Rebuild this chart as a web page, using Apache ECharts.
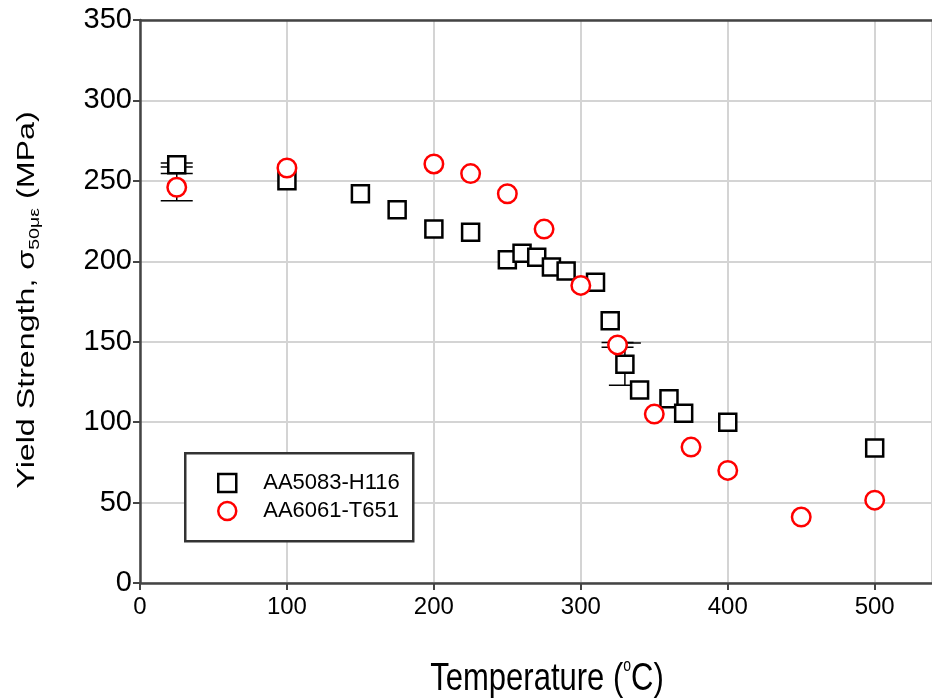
<!DOCTYPE html>
<html><head><meta charset="utf-8">
<script src="https://cdn.jsdelivr.net/npm/echarts@6/dist/echarts.min.js"></script>
<style>html,body{margin:0;padding:0;background:#fff}#c{width:932px;height:700px}</style>
</head><body><div id="c"></div>
<script>
// x axis ticks (Temperature, °C) and y axis ticks (MPa)
const xTicks = [0, 100, 200, 300, 400, 500];
const yTicks = [0, 50, 100, 150, 200, 250, 300, 350];
const xMax = 539;

// AA5083-H116 (squares)
const seriesAName = 'AA5083-H116';
const tempA = [25, 100, 150, 175, 200, 225, 250, 260, 270, 280, 290, 310, 320, 330, 340, 360, 370, 400, 500];
const yieldA = [260, 250, 242, 232, 220, 218, 201, 205, 202.5, 196.5, 194, 187, 163, 136, 120, 114.5, 105.5, 100, 84];

// AA6061-T651 (circles)
const seriesBName = 'AA6061-T651';
const tempB = [25, 100, 200, 225, 250, 275, 300, 325, 350, 375, 400, 450, 500];
const yieldB = [246, 258, 260.5, 254.5, 242, 220, 185, 148, 105, 84.5, 70, 41, 51.5];

// error bars
const errTemp = [25, 25, 330, 325];
const errLow = [258.6, 237.6, 123, 146.5];
const errHigh = [261.1, 254.5, 149.2, 149.5];

const FONT = '"Liberation Sans", Arial, sans-serif';
const chart = echarts.init(document.getElementById('c'));

const dataA = tempA.map((t, i) => [t, yieldA[i]]);
const dataB = tempB.map((t, i) => [t, yieldB[i]]);
const dataErr = errTemp.map((t, i) => [t, errLow[i], errHigh[i]]);

chart.setOption({
  animation: false,
  backgroundColor: '#fff',
  grid: { left: 140, top: 20, right: 0, bottom: 117, show: false },
  xAxis: [{
    type: 'value', min: xTicks[0], max: xMax, interval: xTicks[1] - xTicks[0],
    axisLine: { show: true, onZero: false, lineStyle: { color: '#444', width: 2.5 } },
    axisTick: { show: true, inside: false, length: 7, lineStyle: { color: '#444', width: 2 } },
    axisLabel: { fontFamily: FONT, fontSize: 24, color: '#000', margin: 12, showMaxLabel: false },
    splitLine: { show: true, lineStyle: { color: '#d4d4d4', width: 2 } }
  }, {
    type: 'value', position: 'top', min: xTicks[0], max: xMax, interval: xTicks[1] - xTicks[0],
    axisLine: { show: true, onZero: false, lineStyle: { color: '#444', width: 2.5 } },
    axisTick: { show: false }, axisLabel: { show: false }, splitLine: { show: false }
  }],
  yAxis: {
    type: 'value', min: yTicks[0], max: yTicks[yTicks.length - 1], interval: yTicks[1] - yTicks[0],
    axisLine: { show: true, onZero: false, lineStyle: { color: '#444', width: 2.5 } },
    axisTick: { show: true, inside: false, length: 7, lineStyle: { color: '#444', width: 2 } },
    axisLabel: { fontFamily: FONT, fontSize: 29, color: '#000', margin: 8 },
    splitLine: { show: true, lineStyle: { color: '#d4d4d4', width: 2 } }
  },
  legend: {
    orient: 'vertical', left: 217, top: 472, padding: 0, z: 10,
    itemWidth: 18, itemHeight: 18, itemGap: 6,
    formatter: function (name) { return '{g|}{t|' + name + '}'; },
    textStyle: {
      fontFamily: FONT, fontSize: 22, color: '#000',
      rich: {
        g: { width: 22, fontSize: 22, lineHeight: 22 },
        t: { fontFamily: FONT, fontSize: 22, lineHeight: 22, color: '#000' }
      }
    },
    data: [
      { name: seriesAName, icon: 'rect', itemStyle: { color: '#fff', borderColor: '#000', borderWidth: 2.5 } },
      { name: seriesBName, icon: 'circle', itemStyle: { color: '#fff', borderColor: '#ff0000', borderWidth: 2.5 } }
    ]
  },
  graphic: [{
    type: 'rect', left: 184, top: 452, z: 5,
    shape: { width: 228, height: 88 },
    style: { fill: '#fff', stroke: '#333', lineWidth: 2.5 }
  }, {
    type: 'text', x: 28, y: 300, rotation: Math.PI / 2, scaleX: 1.4, scaleY: 1, z: 10,
    style: {
      text: '{a|Yield Strength, σ}{s|50με}{a| (MPa)}', align: 'center', verticalAlign: 'middle',
      fontFamily: FONT, fontSize: 23, fill: '#000',
      rich: {
        a: { fontFamily: FONT, fontSize: 23, fill: '#000', lineHeight: 28 },
        s: { fontFamily: FONT, fontSize: 14, fill: '#000', lineHeight: 14, verticalAlign: 'bottom' }
      }
    }
  }, {
    type: 'text', x: 547, y: 679, scaleX: 1, scaleY: 1.25, z: 10,
    style: {
      text: '{a|Temperature (}{s|o}{a|C)}', align: 'center', verticalAlign: 'middle',
      fontFamily: FONT, fontSize: 31, fill: '#000',
      rich: {
        a: { fontFamily: FONT, fontSize: 31, fill: '#000', lineHeight: 34 },
        s: { fontFamily: FONT, fontSize: 14, fill: '#000', lineHeight: 14, verticalAlign: 'top' }
      }
    }
  }],
  series: [
    {
      type: 'custom', name: 'err', z: 1, silent: true,
      data: dataErr, encode: { x: 0, y: [1, 2] },
      renderItem: function (params, api) {
        const x = api.value(0), lo = api.value(1), hi = api.value(2);
        const pL = api.coord([x, lo]), pH = api.coord([x, hi]);
        const w = 16, st = { stroke: '#000', lineWidth: 1.5 };
        return { type: 'group', children: [
          { type: 'line', shape: { x1: pL[0], y1: pL[1], x2: pH[0], y2: pH[1] }, style: st },
          { type: 'line', shape: { x1: pL[0] - w, y1: pL[1], x2: pL[0] + w, y2: pL[1] }, style: st },
          { type: 'line', shape: { x1: pH[0] - w, y1: pH[1], x2: pH[0] + w, y2: pH[1] }, style: st }
        ] };
      }
    },
    {
      type: 'scatter', name: seriesAName, z: 2, data: dataA,
      symbol: 'rect', symbolSize: 17,
      itemStyle: { color: '#fff', borderColor: '#000', borderWidth: 2.5, opacity: 1 }
    },
    {
      type: 'scatter', name: seriesBName, z: 3, data: dataB,
      symbol: 'circle', symbolSize: 18.5,
      itemStyle: { color: '#fff', borderColor: '#ff0000', borderWidth: 2.5, opacity: 1 }
    }
  ]
});
</script></body></html>
